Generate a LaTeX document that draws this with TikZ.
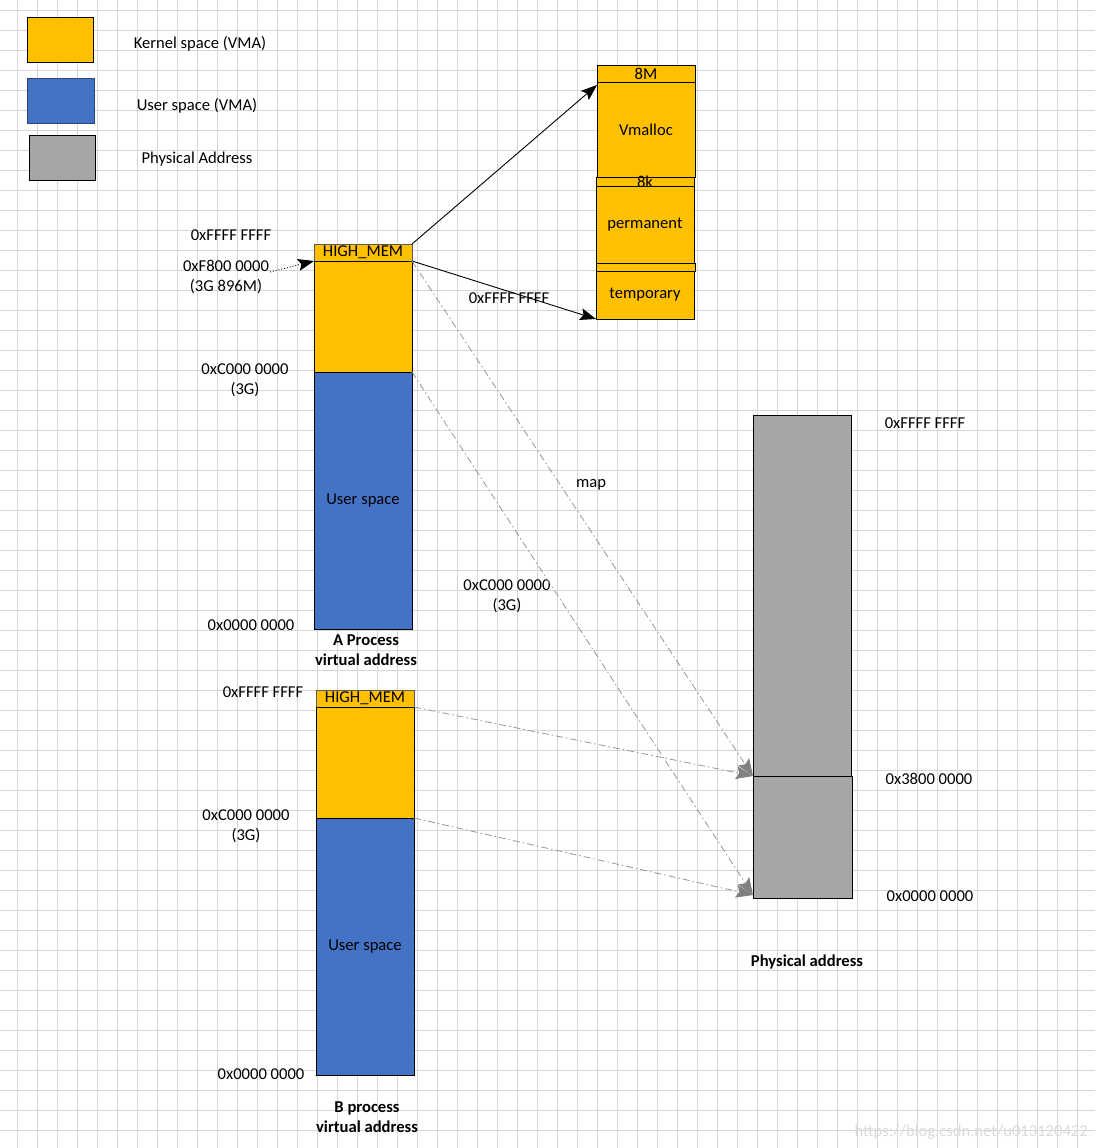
\documentclass[tikz,border=0pt]{standalone}
\usepackage{fontspec}
\setmainfont{Carlito}
\usetikzlibrary{arrows.meta,calc}
\definecolor{kern}{RGB}{255,192,0}
\definecolor{user}{RGB}{68,114,196}
\definecolor{phys}{RGB}{166,166,166}
\definecolor{gridc}{RGB}{214,214,214}
\definecolor{maphead}{RGB}{128,128,128}
\definecolor{mapline}{RGB}{150,150,150}
\newcommand{\bt}[1]{\raisebox{-2pt}{#1}}
\tikzset{
  rbox/.style={draw, line width=1pt, inner sep=0pt, outer sep=0pt, anchor=north west},
  sz/.style 2 args={minimum width=#1pt, minimum height=#2pt},
  lbl/.style={align=center, inner sep=0pt, yshift=-2pt},
  blbl/.style={align=center, inner sep=0pt, yshift=-2pt, font=\fontsize{16.6pt}{20pt}\selectfont\bfseries},
  blk/.style={draw=black, line width=0.9pt, -{Stealth[length=16pt,width=12pt,inset=3pt]}},
  maparrow/.style={draw=mapline, line width=0.8pt, dash pattern=on 7pt off 3pt on 1.5pt off 3pt,
    -{Stealth[length=17pt,width=13pt,inset=3pt,color=maphead]}},
}
\begin{document}
\begin{tikzpicture}[x=1pt,y=-1pt,font=\fontsize{16.6pt}{20pt}\selectfont]
\fill[white] (0,0) rectangle (1095,1148);
\useasboundingbox (0,0) rectangle (1095,1148);
% grid
\foreach \x in {17,37,...,1095} \draw[gridc, line width=0.9pt] (\x,0) -- (\x,1148);
\foreach \y in {10,30,...,1148} \draw[gridc, line width=0.9pt] (0,\y) -- (1095,\y);

% legend
\node[rbox, fill=kern, sz={66}{45}] (lk) at (27,18) {};
\node[rbox, fill=user, draw=user!60!black, sz={67}{45}] (lu) at (27,78) {};
\node[rbox, fill=phys, sz={66}{45}] (lp) at (29,135) {};
\node[lbl] (lkt) at (200,42) {Kernel space (VMA)};
\node[lbl] (lut) at (197,104) {User space (VMA)};
\node[lbl] (lpt) at (197,157) {Physical Address};

% process A
\node[rbox, fill=kern, draw=black!65, sz={98}{17}] (ahm) at (314,244) {\bt{HIGH\_MEM}};
\node[rbox, fill=kern, sz={98}{111}] (ak) at (314,261) {};
\node[rbox, fill=user, sz={98}{257}] (au) at (314,372) {\bt{User space}};

% kernel stack
\node[rbox, fill=kern, sz={98}{16}] (m8) at (597,66) {\bt{8M}};
\node[rbox, fill=kern, sz={98}{95}] (vm) at (597,82) {\bt{Vmalloc}};
\node[rbox, fill=kern, sz={98}{9}] (k8) at (596,177) {};
\node[inner sep=0pt, anchor=base] (k8t) at (645,187.5) {8k};
\node[rbox, fill=kern, sz={98}{77}] (perm) at (596,186) {\bt{permanent}};
\node[rbox, fill=kern, sz={99}{8}] (strip) at (596,263) {};
\node[rbox, fill=kern, sz={98}{48}] (temp) at (596,271) {\bt{temporary}};

% physical
\node[rbox, fill=phys, sz={98}{361}] (pt) at (753,415) {};
\node[rbox, fill=phys, sz={99}{122}] (pb) at (753,776) {};

% process B
\node[rbox, fill=kern, draw=black!65, sz={98}{17}] (bhm) at (316,690) {\bt{HIGH\_MEM}};
\node[rbox, fill=kern, sz={98}{111}] (bk) at (316,707) {};
\node[rbox, fill=user, sz={98}{257}] (bu) at (316,818) {\bt{User space}};

% labels
\node[lbl] (a1) at (231,233) {0xFFFF FFFF};
\node[lbl] (a2) at (226,275) {0xF800 0000\\(3G 896M)};
\node[lbl] (a3) at (245,378) {0xC000 0000\\(3G)};
\node[lbl] (a4) at (251,623) {0x0000 0000};
\node[blbl] (an) at (366,648) {A Process\\virtual address};
\node[lbl] (b1) at (263,690) {0xFFFF FFFF};
\node[lbl] (b3) at (246,824) {0xC000 0000\\(3G)};
\node[lbl] (b4) at (261,1072) {0x0000 0000};
\node[blbl] (bn) at (367,1115) {B process\\virtual address};
\node[lbl] (p1) at (925,421) {0xFFFF FFFF};
\node[lbl] (p2) at (929,777) {0x3800 0000};
\node[lbl] (p3) at (930,894) {0x0000 0000};
\node[blbl] (pn) at (807,960) {Physical address};
\node[lbl] (mp) at (591,483) {map};
\node[lbl] (mc) at (507,594) {0xC000 0000\\(3G)};

% arrows
\draw[blk] (ahm.north east) -- ($(vm.north west)+(0,3)$);
\draw[blk] (ahm.south east) -- (temp.south west);
\node[lbl] (mf) at (509,296) {0xFFFF FFFF};
\coordinate (f8) at (270,272);
\draw[black, line width=0.9pt, dotted, -{Stealth[length=16pt,width=12pt,inset=3pt]}] (f8) -- (ahm.south west);

\draw[maparrow] (ahm.south east) -- (pt.south west);
\draw[maparrow] (ak.south east) -- ($(pb.south west)+(0,-3)$);
\draw[maparrow] (bhm.south east) -- (pt.south west);
\draw[maparrow] (bk.south east) -- ($(pb.south west)+(0,-3)$);

% watermark
\node[lbl, text=black!14, anchor=east] (wm) at (1088,1130) {https://blog.csdn.net/u013120422};
\end{tikzpicture}
\end{document}
